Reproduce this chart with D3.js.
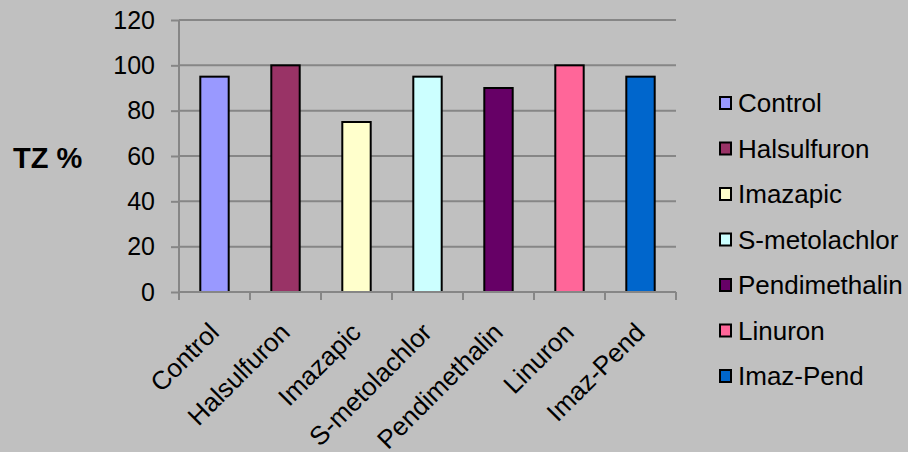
<!DOCTYPE html>
<html><head><meta charset="utf-8">
<script src="https://cdn.jsdelivr.net/npm/d3@7"></script>
<style>
html,body{margin:0;padding:0;background:#c0c0c0;}
svg{display:block;font-family:"Liberation Sans",Arial,sans-serif;}
</style></head>
<body>
<script>
const categories = ["Control","Halsulfuron","Imazapic","S-metolachlor","Pendimethalin","Linuron","Imaz-Pend"];
const values = [95,100,75,95,90,100,95];
const colors = ["#9999ff","#993366","#ffffcc","#ccffff","#660066","#ff6699","#0066cc"];
const yTicks = [0,20,40,60,80,100,120];
const yLabel = "TZ %";

const W = 908, H = 452;
const svg = d3.select("body").append("svg").attr("width",W).attr("height",H);
svg.append("rect").attr("width",W).attr("height",H).attr("fill","#c0c0c0");

const x = d3.scaleBand().domain(categories).range([179,676]).paddingInner(0.6).paddingOuter(0.3);
const xb = d3.scaleBand().domain(categories).range([179,676]);
const y = d3.scaleLinear().domain([0,120]).range([292,20]);

// gridlines
svg.append("g").selectAll("line").data(yTicks.filter(d=>d>0)).join("line")
  .attr("x1",179).attr("x2",676).attr("y1",d=>y(d)).attr("y2",d=>y(d))
  .attr("stroke","#868686").attr("stroke-width",2);

// y axis
const ya = svg.append("g").attr("transform","translate(179,0)")
  .call(d3.axisLeft(y).tickValues(yTicks).tickSize(8).tickPadding(16));
ya.select(".domain").attr("stroke","#868686").attr("stroke-width",2).attr("d","M0,"+y(0)+"V"+y(120));
ya.selectAll(".tick line").attr("stroke","#868686").attr("stroke-width",2);
ya.selectAll("text").attr("font-size",25).attr("fill","#000").attr("font-family","Liberation Sans, Arial, sans-serif");

// bars
svg.append("g").selectAll("rect").data(categories).join("rect")
  .attr("x",d=>x(d)).attr("width",x.bandwidth())
  .attr("y",(d,i)=>y(values[i])).attr("height",(d,i)=>y(0)-y(values[i]))
  .attr("fill",(d,i)=>colors[i]).attr("stroke","#000").attr("stroke-width",2);

// x axis
const xa = svg.append("g").attr("transform","translate(0,"+y(0)+")")
  .call(d3.axisBottom(xb).tickSize(0).tickFormat(""));
xa.select(".domain").attr("stroke","#868686").attr("stroke-width",2).attr("d","M179,0H676");
xa.selectAll(".tick").remove();
const xEdges = categories.map(c=>xb(c)).concat([xb(categories[categories.length-1])+xb.bandwidth()]);
svg.append("g").selectAll("line").data(xEdges).join("line")
  .attr("x1",d=>d).attr("x2",d=>d).attr("y1",y(0)).attr("y2",y(0)+8)
  .attr("stroke","#868686").attr("stroke-width",2);

// x labels rotated
svg.append("g").selectAll("text").data(categories).join("text")
  .attr("transform",d=>"translate("+(xb(d)+xb.bandwidth()/2+6)+","+(y(0)+42)+") rotate(-45)")
  .attr("text-anchor","end")
  .attr("font-size",26).attr("fill","#000").text(d=>d);

// y label
svg.append("text").attr("x",13).attr("y",158).attr("dy","0.35em")
  .attr("font-size",29).attr("font-weight","bold").attr("fill","#000").text(yLabel);

// legend
const lg = svg.append("g").selectAll("g").data(categories).join("g")
  .attr("transform",(d,i)=>"translate(720,"+(103+i*45.5)+")");
lg.append("rect").attr("x",0).attr("y",-6).attr("width",11).attr("height",12)
  .attr("fill",(d,i)=>colors[i]).attr("stroke","#000").attr("stroke-width",2);
lg.append("text").attr("x",18).attr("dy","0.35em").attr("font-size",26).attr("fill","#000").text(d=>d);
</script>
</body></html>
